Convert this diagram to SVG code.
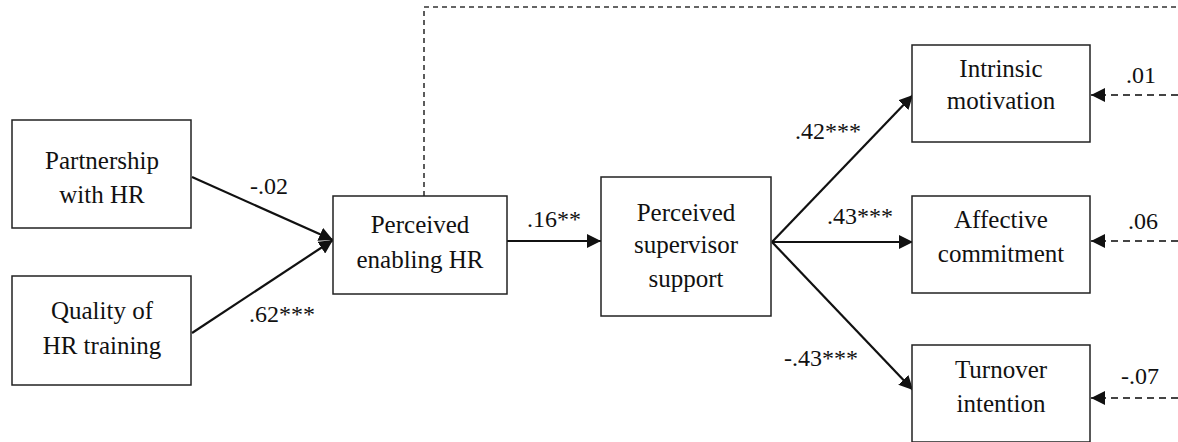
<svg xmlns="http://www.w3.org/2000/svg" width="1178" height="442" viewBox="0 0 1178 442">
<defs>
<marker id="ahb" viewBox="0 0 10 10" refX="10" refY="5" markerWidth="14" markerHeight="14" markerUnits="userSpaceOnUse" orient="auto">
<path d="M0,0 L10,5 L0,10 z" fill="#111"/>
</marker>
</defs>
<rect width="1178" height="442" fill="#fff"/>
<g id="connectors">
<path d="M424,196 V7 H1178" stroke="#333" stroke-width="1.6" fill="none" stroke-dasharray="5,4"/>
<g stroke="#111" stroke-width="2.2" fill="none">
<line x1="192" y1="177" x2="333" y2="240" marker-end="url(#ahb)"/>
<line x1="192" y1="333" x2="333" y2="240" marker-end="url(#ahb)"/>
<line x1="507" y1="241" x2="601" y2="241" marker-end="url(#ahb)"/>
<line x1="772" y1="242" x2="913" y2="95" marker-end="url(#ahb)"/>
<line x1="772" y1="242" x2="913" y2="242" marker-end="url(#ahb)"/>
<line x1="772" y1="242" x2="913" y2="390" marker-end="url(#ahb)"/>
</g>
<g stroke="#444" stroke-width="2" fill="none" stroke-dasharray="7,5">
<line x1="1178" y1="95" x2="1091" y2="95" marker-end="url(#ahb)"/>
<line x1="1178" y1="241" x2="1091" y2="241" marker-end="url(#ahb)"/>
<line x1="1178" y1="398" x2="1091" y2="398" marker-end="url(#ahb)"/>
</g>
</g>
<text x="250" y="194" style="font-family:'Liberation Serif',serif !important;font-size:24px;fill:#111">-.02</text>
<text x="249" y="322" style="font-family:'Liberation Serif',serif !important;font-size:24px;fill:#111">.62***</text>
<text x="527" y="227" style="font-family:'Liberation Serif',serif !important;font-size:24px;fill:#111">.16**</text>
<text x="795" y="139" style="font-family:'Liberation Serif',serif !important;font-size:24px;fill:#111">.42***</text>
<text x="827" y="224" style="font-family:'Liberation Serif',serif !important;font-size:24px;fill:#111">.43***</text>
<text x="784" y="366" style="font-family:'Liberation Serif',serif !important;font-size:24px;fill:#111">-.43***</text>
<text x="1126" y="83" style="font-family:'Liberation Serif',serif !important;font-size:24px;fill:#111">.01</text>
<text x="1128" y="229" style="font-family:'Liberation Serif',serif !important;font-size:24px;fill:#111">.06</text>
<text x="1121" y="384" style="font-family:'Liberation Serif',serif !important;font-size:24px;fill:#111">-.07</text>
<g id="partnership">
<rect x="12" y="120" width="179" height="108" fill="#fff" stroke="#222" stroke-width="1.5"/>
<text x="102" y="169" text-anchor="middle" style="font-family:'Liberation Serif',serif !important;font-size:25px;fill:#111">Partnership</text>
<text x="102" y="203" text-anchor="middle" style="font-family:'Liberation Serif',serif !important;font-size:25px;fill:#111">with HR</text>
</g>
<g id="quality">
<rect x="12" y="276" width="179" height="109" fill="#fff" stroke="#222" stroke-width="1.5"/>
<text x="102" y="319" text-anchor="middle" style="font-family:'Liberation Serif',serif !important;font-size:25px;fill:#111">Quality of</text>
<text x="102" y="354" text-anchor="middle" style="font-family:'Liberation Serif',serif !important;font-size:25px;fill:#111">HR training</text>
</g>
<g id="enabling">
<rect x="333" y="196" width="174" height="98" fill="#fff" stroke="#222" stroke-width="1.5"/>
<text x="420" y="233" text-anchor="middle" style="font-family:'Liberation Serif',serif !important;font-size:25px;fill:#111">Perceived</text>
<text x="420" y="268" text-anchor="middle" style="font-family:'Liberation Serif',serif !important;font-size:25px;fill:#111">enabling HR</text>
</g>
<g id="supervisor">
<rect x="601" y="177" width="170" height="139" fill="#fff" stroke="#222" stroke-width="1.5"/>
<text x="686" y="221" text-anchor="middle" style="font-family:'Liberation Serif',serif !important;font-size:25px;fill:#111">Perceived</text>
<text x="686" y="253" text-anchor="middle" style="font-family:'Liberation Serif',serif !important;font-size:25px;fill:#111">supervisor</text>
<text x="686" y="287" text-anchor="middle" style="font-family:'Liberation Serif',serif !important;font-size:25px;fill:#111">support</text>
</g>
<g id="intrinsic">
<rect x="912" y="45" width="178" height="97" fill="#fff" stroke="#222" stroke-width="1.5"/>
<text x="1001" y="77" text-anchor="middle" style="font-family:'Liberation Serif',serif !important;font-size:25px;fill:#111">Intrinsic</text>
<text x="1001" y="109" text-anchor="middle" style="font-family:'Liberation Serif',serif !important;font-size:25px;fill:#111">motivation</text>
</g>
<g id="affective">
<rect x="912" y="196" width="178" height="97" fill="#fff" stroke="#222" stroke-width="1.5"/>
<text x="1001" y="228" text-anchor="middle" style="font-family:'Liberation Serif',serif !important;font-size:25px;fill:#111">Affective</text>
<text x="1001" y="262" text-anchor="middle" style="font-family:'Liberation Serif',serif !important;font-size:25px;fill:#111">commitment</text>
</g>
<g id="turnover">
<rect x="912" y="345" width="178" height="97" fill="#fff" stroke="#222" stroke-width="1.5"/>
<text x="1001" y="378" text-anchor="middle" style="font-family:'Liberation Serif',serif !important;font-size:25px;fill:#111">Turnover</text>
<text x="1001" y="412" text-anchor="middle" style="font-family:'Liberation Serif',serif !important;font-size:25px;fill:#111">intention</text>
</g>
</svg>
